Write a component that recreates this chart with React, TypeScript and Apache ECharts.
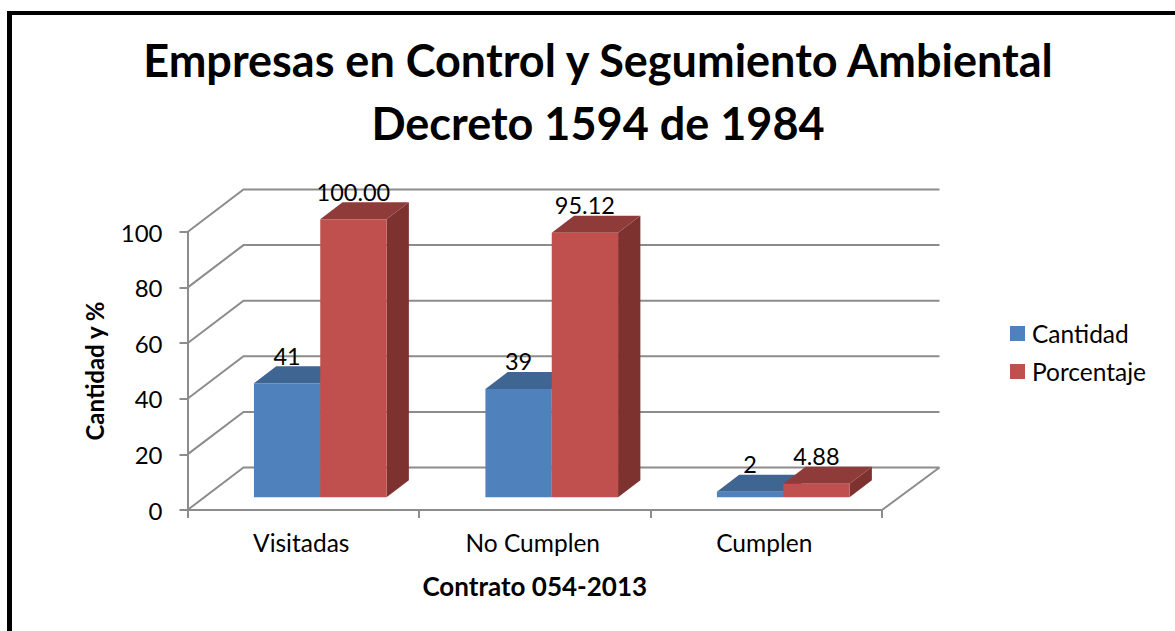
import React, { useEffect, useRef } from "react";
import * as echarts from "echarts";

const categories = ["Visitadas", "No Cumplen", "Cumplen"];
const cantidad = [41, 39, 2];
const porcentaje = [100.0, 95.12, 4.88];
const yTicks = [0, 20, 40, 60, 80, 100];
const titleLines = ["Empresas en Control y Segumiento Ambiental", "Decreto 1594 de 1984"];

const FONT = "Lato";
const GREY = "#8c8c8c";
const WALL_DX = 56;
const WALL_DY = -42.5;
const RIGHT_DX = 57.5;
const FRONT_DX = 17;
const FRONT_DY = -12.7;
const DEPTH_DX = 22.3;
const DEPTH_DY = -17;
const BAR_RATIO = 0.2865;

function wallItem(params: any, api: any) {
  const tick = api.value(0);
  const cs = params.coordSys;
  const [, y] = api.coord([0, tick]);
  const x0 = cs.x;
  const x1 = cs.x + cs.width;
  const lineStyle = { stroke: GREY, lineWidth: 2, fill: "none" };
  const children: any[] = [
    {
      type: "polyline",
      shape: { points: [[x0, y], [x0 + WALL_DX, y + WALL_DY], [x1 + RIGHT_DX, y + WALL_DY]] },
      style: lineStyle,
    },
  ];
  if (tick === 0) {
    children.push({
      type: "line",
      shape: { x1, y1: y, x2: x1 + RIGHT_DX, y2: y + WALL_DY },
      style: lineStyle,
    });
  }
  return { type: "group", children };
}

function barRenderer(slot: number, front: string, top: string, side: string, digits: number) {
  return (_params: any, api: any) => {
    const cat = api.value(0);
    const val = api.value(1);
    const band = api.size([1, 0])[0];
    const w = band * BAR_RATIO;
    const [cx, yTop0] = api.coord([cat, val]);
    const [, yBase0] = api.coord([cat, 0]);
    const xl = cx + FRONT_DX + (slot - 1) * w;
    const xr = xl + w;
    const yt = yTop0 + FRONT_DY;
    const yb = yBase0 + FRONT_DY;
    const poly = (points: number[][], fill: string) => ({
      type: "polygon",
      shape: { points },
      style: { fill, stroke: null },
    });
    return {
      type: "group",
      children: [
        poly([[xr, yt], [xr + DEPTH_DX, yt + DEPTH_DY], [xr + DEPTH_DX, yb + DEPTH_DY], [xr, yb]], side),
        poly([[xl, yt], [xl + DEPTH_DX, yt + DEPTH_DY], [xr + DEPTH_DX, yt + DEPTH_DY], [xr, yt]], top),
        poly([[xl, yt], [xr, yt], [xr, yb], [xl, yb]], front),
        {
          type: "text",
          z2: 50,
          style: {
            text: val.toFixed(digits),
            x: (xl + xr) / 2,
            y: yt - 27.5,
            align: "center",
            verticalAlign: "middle",
            fontFamily: FONT,
            fontSize: 23.5,
            fill: "#000",
          },
        },
      ],
    };
  };
}

export default function App() {
  const ref = useRef<HTMLDivElement>(null);
  useEffect(() => {
    const chart = echarts.init(ref.current!, null, { renderer: "svg" });
    chart.setOption({
      animation: false,
      backgroundColor: "#fff",
      textStyle: { fontFamily: FONT },
      title: {
        text: titleLines.join("\n"),
        left: 593,
        top: 23,
        textAlign: "center",
        textStyle: { fontFamily: FONT, fontSize: 45, fontWeight: "bold", color: "#000", lineHeight: 63 },
      },
      grid: { left: 187.5, right: 293, top: 232, bottom: 121 },
      legend: {
        data: ["Cantidad", "Porcentaje"],
        orient: "vertical",
        left: 1010,
        top: 321,
        padding: 0,
        itemWidth: 15,
        itemHeight: 15,
        itemGap: 13,
        icon: "rect",
        selectedMode: false,
        textStyle: { fontFamily: FONT, fontSize: 24.5, color: "#000", padding: [0, 0, 0, 2] },
      },
      xAxis: {
        type: "category",
        data: categories,
        name: "Contrato 054-2013",
        nameLocation: "middle",
        nameGap: 63,
        nameTextStyle: { fontFamily: FONT, fontSize: 26, fontWeight: "bold", color: "#000" },
        axisLine: { lineStyle: { color: GREY, width: 2 } },
        axisTick: { show: true, alignWithLabel: false, length: 8, lineStyle: { color: GREY, width: 2 } },
        axisLabel: { fontFamily: FONT, fontSize: 24.5, color: "#000", margin: 20, padding: [0, 4, 0, 0] },
      },
      yAxis: {
        type: "value",
        min: 0,
        max: 100,
        interval: 20,
        name: "Cantidad y %",
        nameLocation: "middle",
        nameGap: 81,
        nameTextStyle: { fontFamily: FONT, fontSize: 24, fontWeight: "bold", color: "#000" },
        axisLine: { show: true, lineStyle: { color: GREY, width: 2 } },
        axisTick: { show: true, length: 8, lineStyle: { color: GREY, width: 2 } },
        axisLabel: { fontFamily: FONT, fontSize: 24, color: "#000", margin: 25 },
        splitLine: { show: false },
      },
      series: [
        {
          type: "custom",
          name: "walls",
          z: 1,
          silent: true,
          data: yTicks.map((t) => [t]),
          encode: { y: 0 },
          renderItem: wallItem,
        },
        {
          type: "custom",
          name: "Cantidad",
          z: 3,
          itemStyle: { color: "#4F81BD" },
          data: cantidad.map((v, i) => [i, v]),
          encode: { x: 0, y: 1 },
          renderItem: barRenderer(0, "#4F81BD", "#3F6592", "#37587F", 0),
        },
        {
          type: "custom",
          name: "Porcentaje",
          z: 4,
          itemStyle: { color: "#C0504D" },
          data: porcentaje.map((v, i) => [i, v]),
          encode: { x: 0, y: 1 },
          renderItem: barRenderer(1, "#C0504D", "#8F3B39", "#7D3230", 2),
        },
      ],
      graphic: [
        { type: "rect", shape: { x: 7, y: 11, width: 5, height: 620 }, style: { fill: "#000" } },
        { type: "rect", shape: { x: 7, y: 11, width: 1168, height: 4 }, style: { fill: "#000" } },
      ],
    });
    return () => chart.dispose();
  }, []);
  return <div ref={ref} style={{ position: "absolute", left: 0, top: 0, width: 1175, height: 631 }} />;
}
